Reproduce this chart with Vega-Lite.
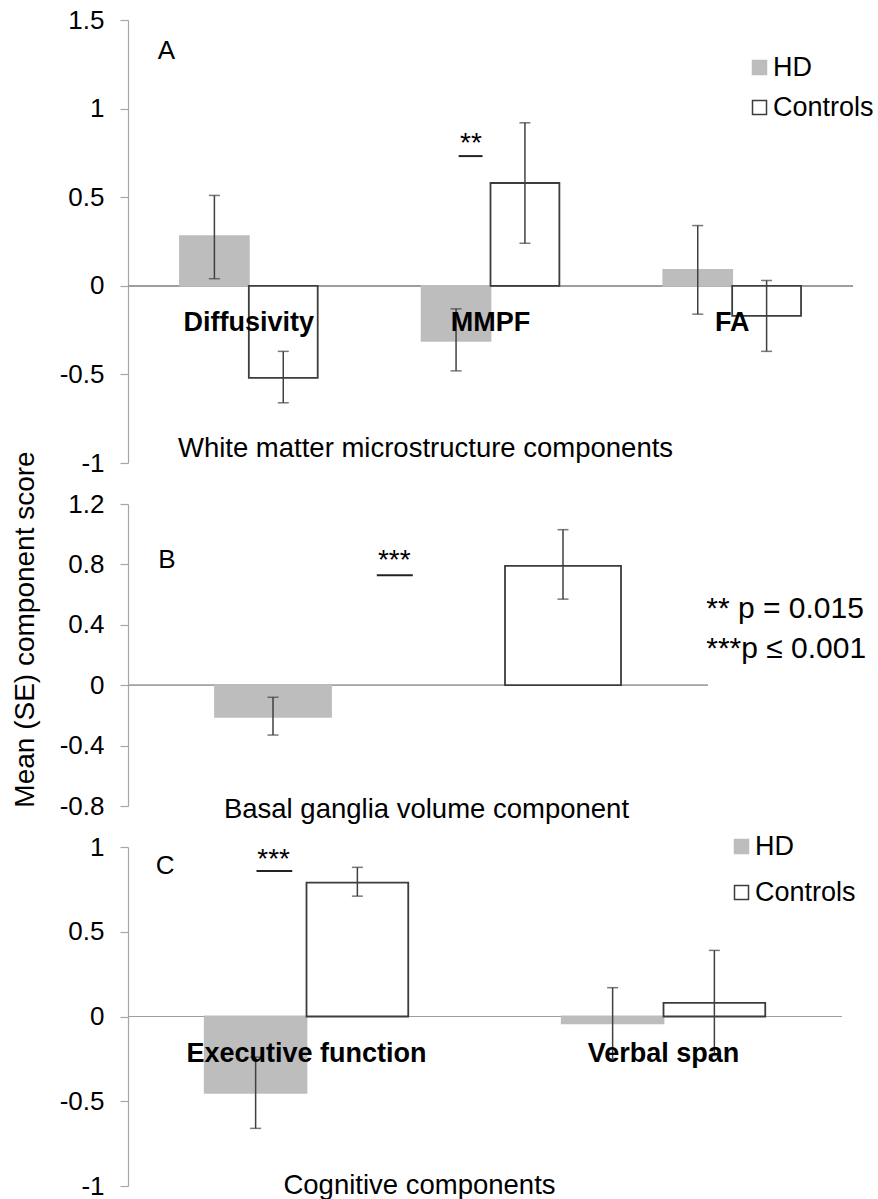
{
  "$schema": "https://vega.github.io/schema/vega-lite/v6.json",
  "background": "white",
  "padding": {"left": 10, "top": 7, "right": 0, "bottom": 0},
  "config": {
    "view": {"stroke": null},
    "font": "Liberation Sans",
    "axis": {"grid": false, "labelFont": "Liberation Sans", "titleFont": "Liberation Sans", "labelColor": "#000", "titleColor": "#000", "titleFontWeight": "normal"},
    "axisY": {"domainColor": "#a6a6a6", "tickColor": "#a6a6a6", "tickSize": 8, "domainWidth": 1.2, "tickWidth": 1.2, "labelFontSize": 26, "labelPadding": 16, "titleFontSize": 28},
    "axisX": {"domain": false, "ticks": false, "labels": false, "titleFontSize": 27.5, "titleBaseline": "alphabetic", "titleAlign": "center", "titleAnchor": "start"},
    "legend": {"labelFont": "Liberation Sans", "labelColor": "#000"}
  },
  "datasets": {
    "panelA": [
      {"component": "Diffusivity", "group": "HD", "mean": 0.28, "lo": 0.04, "hi": 0.51},
      {"component": "Diffusivity", "group": "Controls", "mean": -0.52, "lo": -0.66, "hi": -0.37},
      {"component": "MMPF", "group": "HD", "mean": -0.31, "lo": -0.48, "hi": -0.13},
      {"component": "MMPF", "group": "Controls", "mean": 0.58, "lo": 0.24, "hi": 0.92},
      {"component": "FA", "group": "HD", "mean": 0.09, "lo": -0.16, "hi": 0.34},
      {"component": "FA", "group": "Controls", "mean": -0.17, "lo": -0.37, "hi": 0.03}
    ],
    "panelB": [
      {"component": "Basal ganglia volume", "group": "HD", "mean": -0.21, "lo": -0.33, "hi": -0.08},
      {"component": "Basal ganglia volume", "group": "Controls", "mean": 0.79, "lo": 0.57, "hi": 1.03}
    ],
    "panelC": [
      {"component": "Executive function", "group": "HD", "mean": -0.45, "lo": -0.66, "hi": -0.24},
      {"component": "Executive function", "group": "Controls", "mean": 0.79, "lo": 0.71, "hi": 0.88},
      {"component": "Verbal span", "group": "HD", "mean": -0.04, "lo": -0.25, "hi": 0.17},
      {"component": "Verbal span", "group": "Controls", "mean": 0.08, "lo": -0.23, "hi": 0.39}
    ],
    "annA": [
      {"kind": "letter", "text": "A", "px": 0.041, "py": 1.278},
      {"kind": "star", "text": "**", "px": 0.473, "py": 0.754}
    ],
    "sigA": [{"px": 0.456, "px2": 0.489, "py": 0.732}],
    "annB": [
      {"kind": "letter", "text": "B", "px": 0.052, "py": 0.775},
      {"kind": "star", "text": "***", "px": 0.459, "py": 0.77},
      {"kind": "note", "text": "** p = 0.015", "px": 0.997, "py": 0.444},
      {"kind": "note", "text": "***p ≤ 0.001", "px": 0.997, "py": 0.179}
    ],
    "sigB": [{"px": 0.429, "px2": 0.491, "py": 0.728}],
    "annC": [
      {"kind": "letter", "text": "C", "px": 0.039, "py": 0.841},
      {"kind": "star", "text": "***", "px": 0.204, "py": 0.876}
    ],
    "sigC": [{"px": 0.18, "px2": 0.23, "py": 0.859}]
  },
  "vconcat": [
    {
      "width": 725,
      "height": 443,
      "resolve": {"scale": {"x": "independent"}, "axis": {"x": "independent"}},
      "layer": [
        {
          "data": {"name": "panelA"},
          "layer": [
            {
              "mark": {"type": "rule", "color": "#9e9e9e", "strokeWidth": 1.2},
              "encoding": {"y": {"datum": 0, "type": "quantitative", "scale": {"domain": [-1, 1.5], "nice": false, "zero": false}}}
            },
            {
              "mark": {"type": "bar", "strokeWidth": 1.8},
              "encoding": {
                "x": {"field": "component", "type": "nominal", "sort": ["Diffusivity", "MMPF", "FA"], "scale": {"paddingInner": 0.43, "paddingOuter": 0.215},
                  "axis": {"title": "White matter microstructure components", "titleX": 297, "titleY": -7}},
                "xOffset": {"field": "group", "type": "nominal", "sort": ["HD", "Controls"], "scale": {"paddingInner": 0, "paddingOuter": 0}},
                "y": {"field": "mean", "type": "quantitative", "stack": null, "scale": {"domain": [-1, 1.5], "nice": false, "zero": false},
                  "axis": {"values": [-1, -0.5, 0, 0.5, 1, 1.5], "labelExpr": "'' + datum.value", "title": null}},
                "fill": {"field": "group", "type": "nominal", "scale": {"domain": ["HD", "Controls"], "range": ["#bdbdbd", "#ffffff"]},
                  "legend": {"orient": "none", "legendX": 618, "legendY": 34, "title": null, "labelFontSize": 27, "symbolType": "square", "symbolSize": 196, "symbolStrokeWidth": 1.5, "rowPadding": 12, "labelOffset": 0, "padding": 0}},
                "stroke": {"field": "group", "type": "nominal", "scale": {"domain": ["HD", "Controls"], "range": ["#bdbdbd", "#3c3c3c"]},
                  "legend": {"orient": "none", "legendX": 618, "legendY": 34, "title": null, "labelFontSize": 27, "symbolType": "square", "symbolSize": 196, "symbolStrokeWidth": 1.5, "rowPadding": 12, "labelOffset": 0, "padding": 0}}
              }
            },
            {
              "mark": {"type": "rule", "color": "#404040", "strokeWidth": 1.5},
              "encoding": {
                "x": {"field": "component", "type": "nominal", "sort": ["Diffusivity", "MMPF", "FA"], "scale": {"paddingInner": 0.43, "paddingOuter": 0.215}},
                "xOffset": {"field": "group", "type": "nominal", "sort": ["HD", "Controls"], "scale": {"paddingInner": 0, "paddingOuter": 0}},
                "y": {"field": "lo", "type": "quantitative", "scale": {"domain": [-1, 1.5], "nice": false, "zero": false}},
                "y2": {"field": "hi"}
              }
            },
            {
              "mark": {"type": "tick", "color": "#404040", "thickness": 1.5, "size": 11},
              "encoding": {
                "x": {"field": "component", "type": "nominal", "sort": ["Diffusivity", "MMPF", "FA"], "scale": {"paddingInner": 0.43, "paddingOuter": 0.215}},
                "xOffset": {"field": "group", "type": "nominal", "sort": ["HD", "Controls"], "scale": {"paddingInner": 0, "paddingOuter": 0}},
                "y": {"field": "lo", "type": "quantitative", "scale": {"domain": [-1, 1.5], "nice": false, "zero": false}}
              }
            },
            {
              "mark": {"type": "tick", "color": "#404040", "thickness": 1.5, "size": 11},
              "encoding": {
                "x": {"field": "component", "type": "nominal", "sort": ["Diffusivity", "MMPF", "FA"], "scale": {"paddingInner": 0.43, "paddingOuter": 0.215}},
                "xOffset": {"field": "group", "type": "nominal", "sort": ["HD", "Controls"], "scale": {"paddingInner": 0, "paddingOuter": 0}},
                "y": {"field": "hi", "type": "quantitative", "scale": {"domain": [-1, 1.5], "nice": false, "zero": false}}
              }
            },
            {
              "transform": [{"filter": "datum.group == 'HD'"}],
              "mark": {"type": "text", "fontSize": 27, "fontWeight": "bold", "baseline": "alphabetic", "align": "center", "dy": 45, "color": "#000"},
              "encoding": {
                "x": {"field": "component", "type": "nominal", "sort": ["Diffusivity", "MMPF", "FA"], "scale": {"paddingInner": 0.43, "paddingOuter": 0.215}},
                "y": {"datum": 0, "type": "quantitative", "scale": {"domain": [-1, 1.5], "nice": false, "zero": false}},
                "text": {"field": "component"}
              }
            }
          ]
        },
        {
          "data": {"name": "annA"},
          "transform": [{"filter": "datum.kind == 'letter'"}],
          "mark": {"type": "text", "fontSize": 26, "align": "left", "baseline": "alphabetic", "color": "#000"},
          "encoding": {
            "x": {"field": "px", "type": "quantitative", "scale": {"domain": [0, 1], "nice": false, "zero": false}, "axis": null},
            "y": {"field": "py", "type": "quantitative", "scale": {"domain": [-1, 1.5], "nice": false, "zero": false}},
            "text": {"field": "text"}
          }
        },
        {
          "data": {"name": "annA"},
          "transform": [{"filter": "datum.kind == 'star'"}],
          "mark": {"type": "text", "fontSize": 28, "align": "center", "baseline": "alphabetic", "color": "#000"},
          "encoding": {
            "x": {"field": "px", "type": "quantitative", "scale": {"domain": [0, 1], "nice": false, "zero": false}, "axis": null},
            "y": {"field": "py", "type": "quantitative", "scale": {"domain": [-1, 1.5], "nice": false, "zero": false}},
            "text": {"field": "text"}
          }
        },
        {
          "data": {"name": "sigA"},
          "mark": {"type": "rule", "color": "#222222", "strokeWidth": 2},
          "encoding": {
            "x": {"field": "px", "type": "quantitative", "scale": {"domain": [0, 1], "nice": false, "zero": false}, "axis": null},
            "x2": {"field": "px2"},
            "y": {"field": "py", "type": "quantitative", "scale": {"domain": [-1, 1.5], "nice": false, "zero": false}}
          }
        }
      ]
    },
    {
      "width": 580,
      "height": 302,
      "resolve": {"scale": {"x": "independent"}, "axis": {"x": "independent"}},
      "layer": [
        {
          "data": {"name": "panelB"},
          "layer": [
            {
              "mark": {"type": "rule", "color": "#9e9e9e", "strokeWidth": 1.2},
              "encoding": {"y": {"datum": 0, "type": "quantitative", "scale": {"domain": [-0.8, 1.2], "nice": false, "zero": false}}}
            },
            {
              "mark": {"type": "bar", "strokeWidth": 1.8},
              "encoding": {
                "x": {"field": "group", "type": "nominal", "sort": ["HD", "Controls"], "scale": {"paddingInner": 0.6, "paddingOuter": 0.3},
                  "axis": {"title": "Basal ganglia volume component", "titleX": 298, "titleY": 11}},
                "y": {"field": "mean", "type": "quantitative", "stack": null, "scale": {"domain": [-0.8, 1.2], "nice": false, "zero": false},
                  "axis": {"values": [-0.8, -0.4, 0, 0.4, 0.8, 1.2], "labelExpr": "'' + datum.value", "title": "Mean (SE) component score", "titleAngle": 270, "titleX": -95, "titleY": 125, "titleAlign": "center", "titleBaseline": "alphabetic", "titleAnchor": "start"}},
                "fill": {"field": "group", "type": "nominal", "scale": {"domain": ["HD", "Controls"], "range": ["#bdbdbd", "#ffffff"]}, "legend": null},
                "stroke": {"field": "group", "type": "nominal", "scale": {"domain": ["HD", "Controls"], "range": ["#bdbdbd", "#3c3c3c"]}, "legend": null}
              }
            },
            {
              "mark": {"type": "rule", "color": "#404040", "strokeWidth": 1.5},
              "encoding": {
                "x": {"field": "group", "type": "nominal", "sort": ["HD", "Controls"], "scale": {"paddingInner": 0.6, "paddingOuter": 0.3}},
                "y": {"field": "lo", "type": "quantitative", "scale": {"domain": [-0.8, 1.2], "nice": false, "zero": false}},
                "y2": {"field": "hi"}
              }
            },
            {
              "mark": {"type": "tick", "color": "#404040", "thickness": 1.5, "size": 11},
              "encoding": {
                "x": {"field": "group", "type": "nominal", "sort": ["HD", "Controls"], "scale": {"paddingInner": 0.6, "paddingOuter": 0.3}},
                "y": {"field": "lo", "type": "quantitative", "scale": {"domain": [-0.8, 1.2], "nice": false, "zero": false}}
              }
            },
            {
              "mark": {"type": "tick", "color": "#404040", "thickness": 1.5, "size": 11},
              "encoding": {
                "x": {"field": "group", "type": "nominal", "sort": ["HD", "Controls"], "scale": {"paddingInner": 0.6, "paddingOuter": 0.3}},
                "y": {"field": "hi", "type": "quantitative", "scale": {"domain": [-0.8, 1.2], "nice": false, "zero": false}}
              }
            }
          ]
        },
        {
          "data": {"name": "annB"},
          "transform": [{"filter": "datum.kind == 'letter'"}],
          "mark": {"type": "text", "fontSize": 26, "align": "left", "baseline": "alphabetic", "color": "#000"},
          "encoding": {
            "x": {"field": "px", "type": "quantitative", "scale": {"domain": [0, 1], "nice": false, "zero": false}, "axis": null},
            "y": {"field": "py", "type": "quantitative", "scale": {"domain": [-0.8, 1.2], "nice": false, "zero": false}},
            "text": {"field": "text"}
          }
        },
        {
          "data": {"name": "annB"},
          "transform": [{"filter": "datum.kind == 'star'"}],
          "mark": {"type": "text", "fontSize": 28, "align": "center", "baseline": "alphabetic", "color": "#000"},
          "encoding": {
            "x": {"field": "px", "type": "quantitative", "scale": {"domain": [0, 1], "nice": false, "zero": false}, "axis": null},
            "y": {"field": "py", "type": "quantitative", "scale": {"domain": [-0.8, 1.2], "nice": false, "zero": false}},
            "text": {"field": "text"}
          }
        },
        {
          "data": {"name": "annB"},
          "transform": [{"filter": "datum.kind == 'note'"}],
          "mark": {"type": "text", "fontSize": 30, "align": "left", "baseline": "alphabetic", "color": "#000"},
          "encoding": {
            "x": {"field": "px", "type": "quantitative", "scale": {"domain": [0, 1], "nice": false, "zero": false}, "axis": null},
            "y": {"field": "py", "type": "quantitative", "scale": {"domain": [-0.8, 1.2], "nice": false, "zero": false}},
            "text": {"field": "text"}
          }
        },
        {
          "data": {"name": "sigB"},
          "mark": {"type": "rule", "color": "#222222", "strokeWidth": 2},
          "encoding": {
            "x": {"field": "px", "type": "quantitative", "scale": {"domain": [0, 1], "nice": false, "zero": false}, "axis": null},
            "x2": {"field": "px2"},
            "y": {"field": "py", "type": "quantitative", "scale": {"domain": [-0.8, 1.2], "nice": false, "zero": false}}
          }
        }
      ]
    },
    {
      "width": 714,
      "height": 339,
      "resolve": {"scale": {"x": "independent"}, "axis": {"x": "independent"}},
      "layer": [
        {
          "data": {"name": "panelC"},
          "layer": [
            {
              "mark": {"type": "rule", "color": "#9e9e9e", "strokeWidth": 1.2},
              "encoding": {"y": {"datum": 0, "type": "quantitative", "scale": {"domain": [-1, 1], "nice": false, "zero": false}}}
            },
            {
              "mark": {"type": "bar", "strokeWidth": 1.8},
              "encoding": {
                "x": {"field": "component", "type": "nominal", "sort": ["Executive function", "Verbal span"], "scale": {"paddingInner": 0.43, "paddingOuter": 0.215},
                  "axis": {"title": "Cognitive components", "titleX": 291, "titleY": 7}},
                "xOffset": {"field": "group", "type": "nominal", "sort": ["HD", "Controls"], "scale": {"paddingInner": 0, "paddingOuter": 0}},
                "y": {"field": "mean", "type": "quantitative", "stack": null, "scale": {"domain": [-1, 1], "nice": false, "zero": false},
                  "axis": {"values": [-1, -0.5, 0, 0.5, 1], "labelExpr": "'' + datum.value", "title": null}},
                "fill": {"field": "group", "type": "nominal", "scale": {"domain": ["HD", "Controls"], "range": ["#bdbdbd", "#ffffff"]},
                  "legend": {"orient": "none", "legendX": 600, "legendY": -14, "title": null, "labelFontSize": 27, "symbolType": "square", "symbolSize": 196, "symbolStrokeWidth": 1.5, "rowPadding": 18, "labelOffset": 0, "padding": 0}},
                "stroke": {"field": "group", "type": "nominal", "scale": {"domain": ["HD", "Controls"], "range": ["#bdbdbd", "#3c3c3c"]},
                  "legend": {"orient": "none", "legendX": 600, "legendY": -14, "title": null, "labelFontSize": 27, "symbolType": "square", "symbolSize": 196, "symbolStrokeWidth": 1.5, "rowPadding": 18, "labelOffset": 0, "padding": 0}}
              }
            },
            {
              "mark": {"type": "rule", "color": "#404040", "strokeWidth": 1.5},
              "encoding": {
                "x": {"field": "component", "type": "nominal", "sort": ["Executive function", "Verbal span"], "scale": {"paddingInner": 0.43, "paddingOuter": 0.215}},
                "xOffset": {"field": "group", "type": "nominal", "sort": ["HD", "Controls"], "scale": {"paddingInner": 0, "paddingOuter": 0}},
                "y": {"field": "lo", "type": "quantitative", "scale": {"domain": [-1, 1], "nice": false, "zero": false}},
                "y2": {"field": "hi"}
              }
            },
            {
              "mark": {"type": "tick", "color": "#404040", "thickness": 1.5, "size": 11},
              "encoding": {
                "x": {"field": "component", "type": "nominal", "sort": ["Executive function", "Verbal span"], "scale": {"paddingInner": 0.43, "paddingOuter": 0.215}},
                "xOffset": {"field": "group", "type": "nominal", "sort": ["HD", "Controls"], "scale": {"paddingInner": 0, "paddingOuter": 0}},
                "y": {"field": "lo", "type": "quantitative", "scale": {"domain": [-1, 1], "nice": false, "zero": false}}
              }
            },
            {
              "mark": {"type": "tick", "color": "#404040", "thickness": 1.5, "size": 11},
              "encoding": {
                "x": {"field": "component", "type": "nominal", "sort": ["Executive function", "Verbal span"], "scale": {"paddingInner": 0.43, "paddingOuter": 0.215}},
                "xOffset": {"field": "group", "type": "nominal", "sort": ["HD", "Controls"], "scale": {"paddingInner": 0, "paddingOuter": 0}},
                "y": {"field": "hi", "type": "quantitative", "scale": {"domain": [-1, 1], "nice": false, "zero": false}}
              }
            },
            {
              "transform": [{"filter": "datum.group == 'HD'"}],
              "mark": {"type": "text", "fontSize": 27, "fontWeight": "bold", "baseline": "alphabetic", "align": "center", "dy": 45, "color": "#000"},
              "encoding": {
                "x": {"field": "component", "type": "nominal", "sort": ["Executive function", "Verbal span"], "scale": {"paddingInner": 0.43, "paddingOuter": 0.215}},
                "y": {"datum": 0, "type": "quantitative", "scale": {"domain": [-1, 1], "nice": false, "zero": false}},
                "text": {"field": "component"}
              }
            }
          ]
        },
        {
          "data": {"name": "annC"},
          "transform": [{"filter": "datum.kind == 'letter'"}],
          "mark": {"type": "text", "fontSize": 26, "align": "left", "baseline": "alphabetic", "color": "#000"},
          "encoding": {
            "x": {"field": "px", "type": "quantitative", "scale": {"domain": [0, 1], "nice": false, "zero": false}, "axis": null},
            "y": {"field": "py", "type": "quantitative", "scale": {"domain": [-1, 1], "nice": false, "zero": false}},
            "text": {"field": "text"}
          }
        },
        {
          "data": {"name": "annC"},
          "transform": [{"filter": "datum.kind == 'star'"}],
          "mark": {"type": "text", "fontSize": 28, "align": "center", "baseline": "alphabetic", "color": "#000"},
          "encoding": {
            "x": {"field": "px", "type": "quantitative", "scale": {"domain": [0, 1], "nice": false, "zero": false}, "axis": null},
            "y": {"field": "py", "type": "quantitative", "scale": {"domain": [-1, 1], "nice": false, "zero": false}},
            "text": {"field": "text"}
          }
        },
        {
          "data": {"name": "sigC"},
          "mark": {"type": "rule", "color": "#222222", "strokeWidth": 2},
          "encoding": {
            "x": {"field": "px", "type": "quantitative", "scale": {"domain": [0, 1], "nice": false, "zero": false}, "axis": null},
            "x2": {"field": "px2"},
            "y": {"field": "py", "type": "quantitative", "scale": {"domain": [-1, 1], "nice": false, "zero": false}}
          }
        }
      ]
    }
  ],
  "spacing": 41,
  "bounds": "flush",
  "resolve": {
    "scale": {"x": "independent", "y": "independent", "xOffset": "independent", "fill": "independent", "stroke": "independent"},
    "legend": {"fill": "independent", "stroke": "independent"}
  }
}
